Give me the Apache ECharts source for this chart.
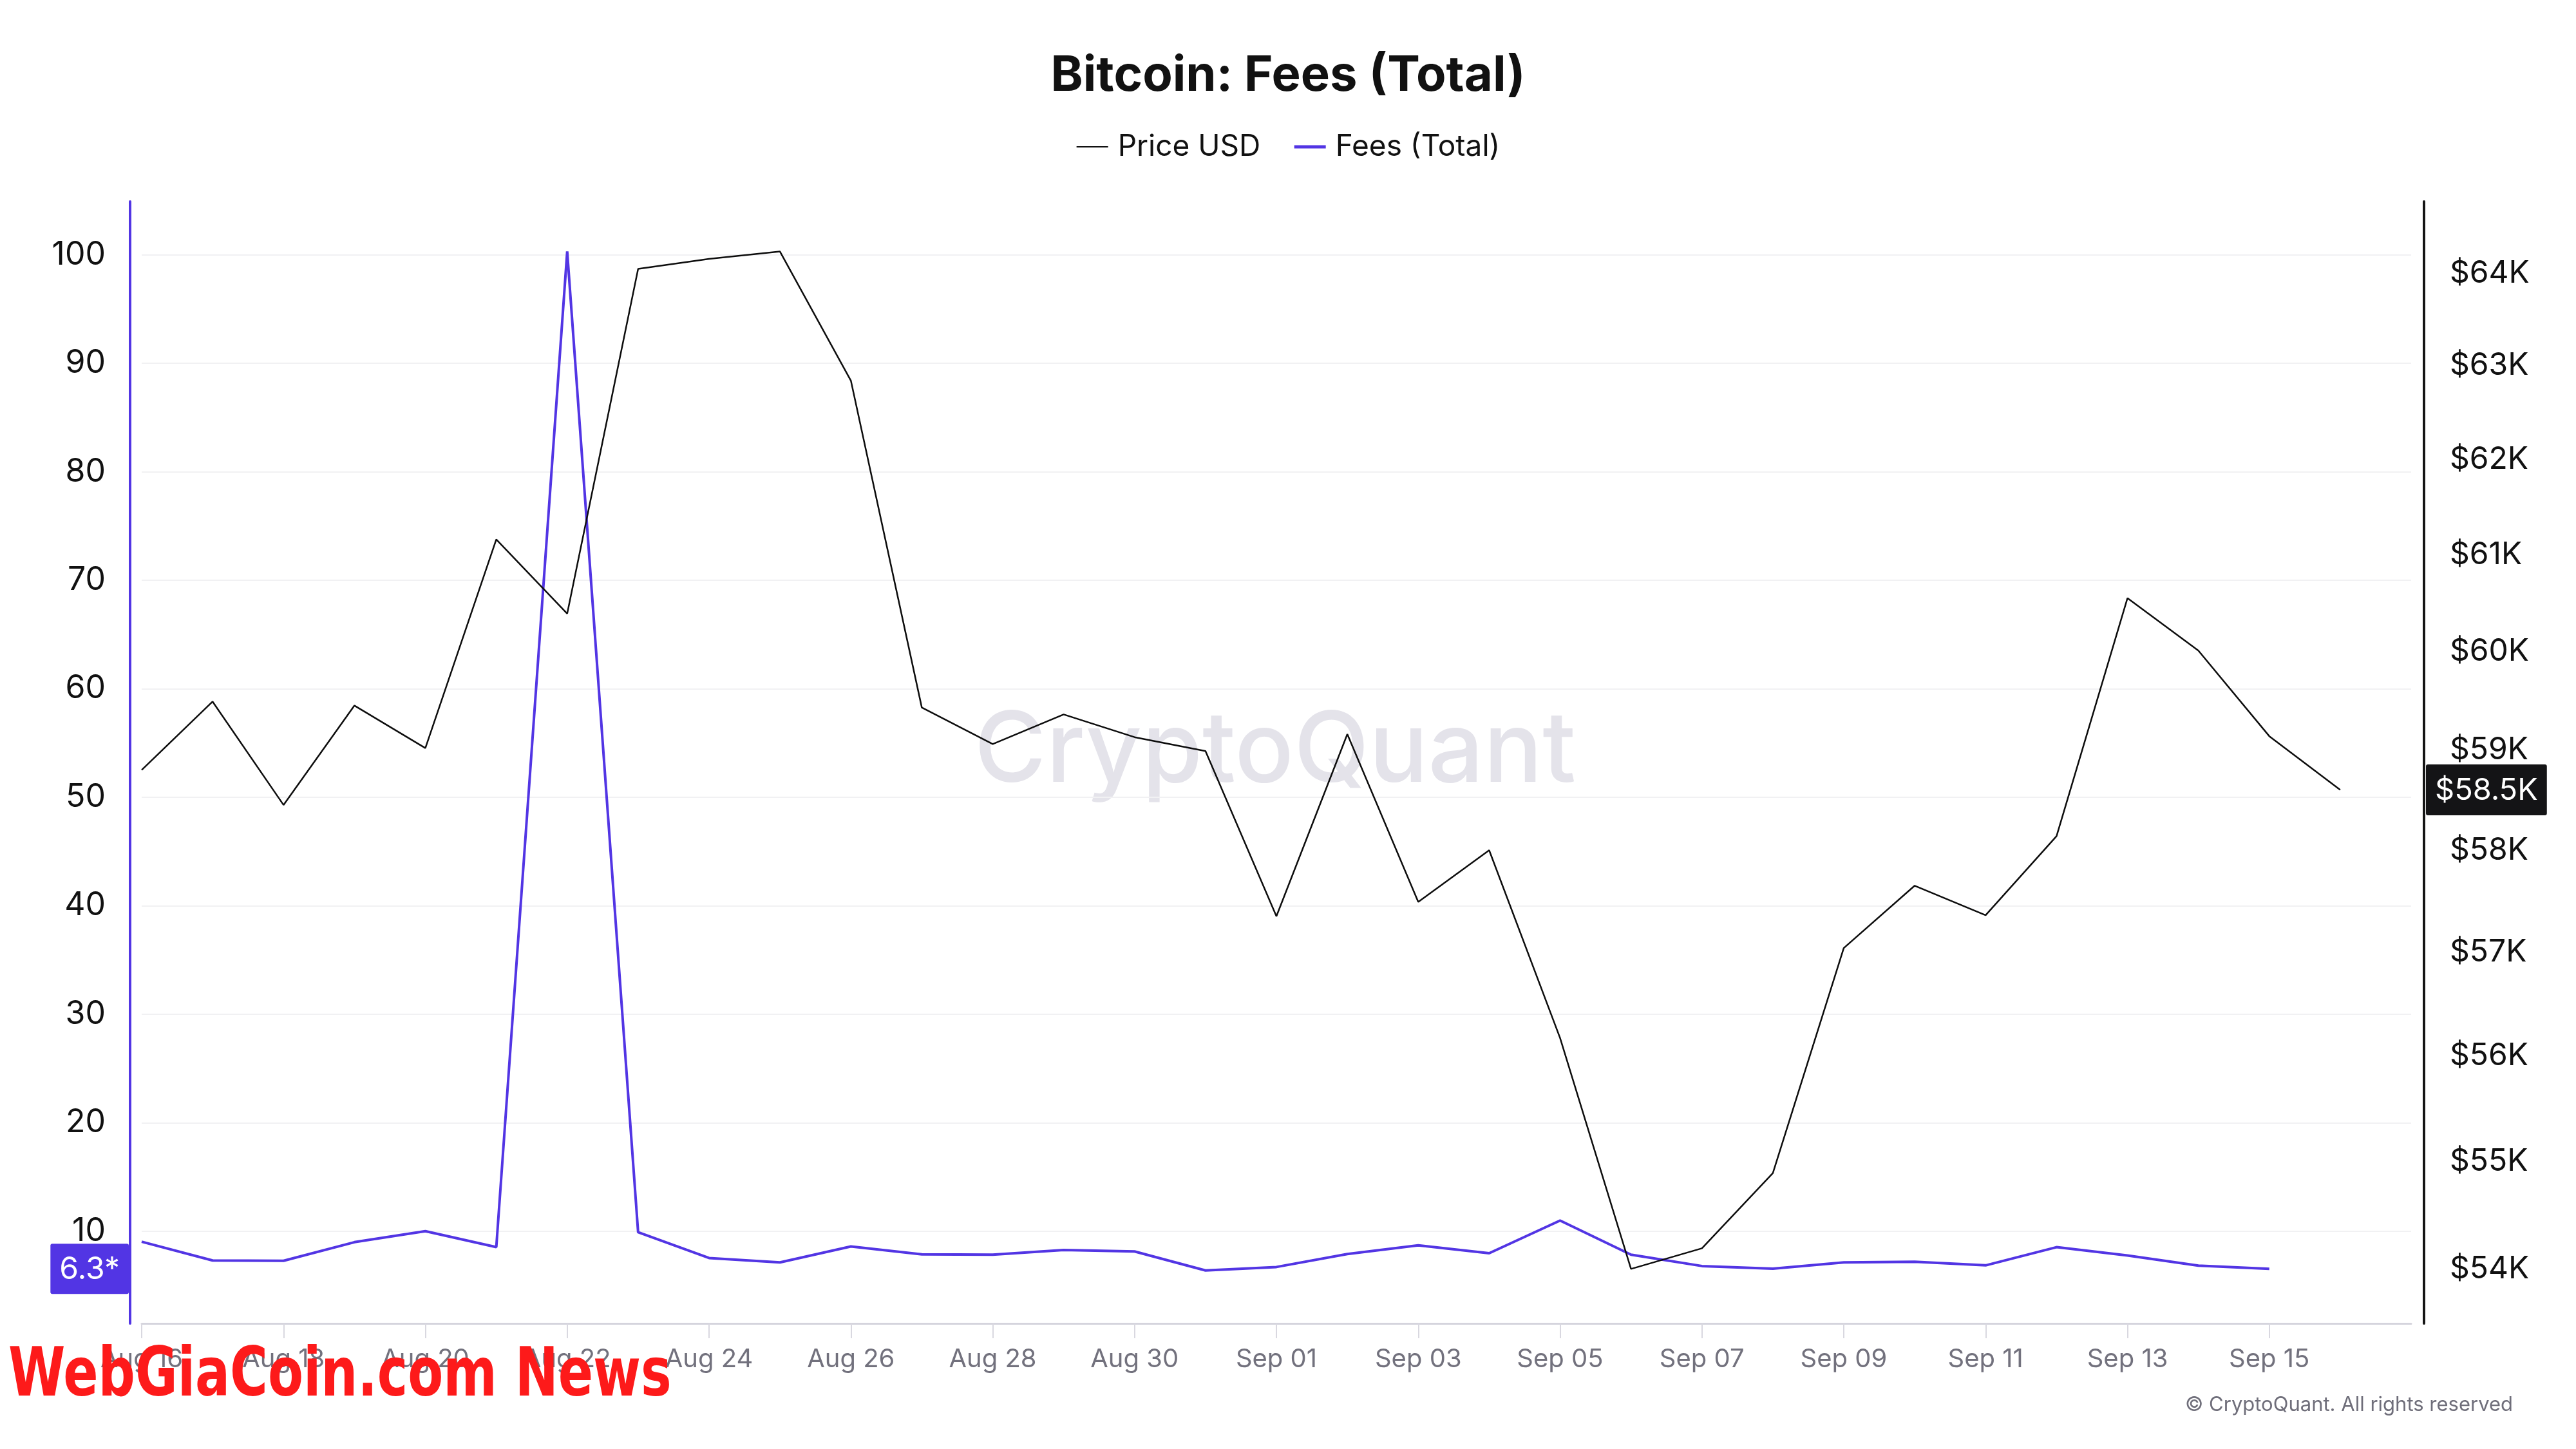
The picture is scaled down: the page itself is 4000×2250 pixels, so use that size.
<!DOCTYPE html>
<html><head><meta charset="utf-8">
<script src="https://cdn.jsdelivr.net/npm/echarts@6/dist/echarts.min.js"></script>
<style>html,body{margin:0;padding:0;background:#fff}#c{width:4000px;height:2250px}</style>
</head><body><div id="c"></div>
<script>
const dates = ['Aug 16','Aug 17','Aug 18','Aug 19','Aug 20','Aug 21','Aug 22','Aug 23','Aug 24','Aug 25','Aug 26','Aug 27','Aug 28','Aug 29','Aug 30','Aug 31',
  'Sep 01','Sep 02','Sep 03','Sep 04','Sep 05','Sep 06','Sep 07','Sep 08','Sep 09','Sep 10','Sep 11','Sep 12','Sep 13','Sep 14','Sep 15','Sep 16','Sep 17'];
const priceUSD = [58800, 59490, 58450, 59450, 59020, 61160, 60390, 64050, 64160, 64240, 62840, 59430, 59060, 59360, 59130, 58990,
  57350, 59160, 57490, 58000, 56170, 54000, 54190, 54890, 57040, 57650, 57360, 58140, 60550, 60010, 59140, 58600];
const feesTotal = [9.03, 7.30, 7.27, 8.99, 10.0, 8.53, 100.3, 9.90, 7.53, 7.12, 8.59, 7.86, 7.83, 8.27, 8.13, 6.38,
  6.7, 7.9, 8.7, 7.97, 10.98, 7.84, 6.79, 6.55, 7.12, 7.18, 6.85, 8.53, 7.76, 6.83, 6.53];
const feesTicks = [10, 20, 30, 40, 50, 60, 70, 80, 90, 100];
const priceTicks = [54000, 55000, 56000, 57000, 58000, 59000, 60000, 61000, 62000, 63000, 64000];
const feesBadge = '6.3*';
const priceBadge = '$58.5K';

const FONT = 'Inter, "Noto Sans", sans-serif';
const PURPLE = '#5235e4';
const BLACK = '#0d0d0d';
const lastLabelled = dates.length - 2;
const showDate = (i) => i % 2 === 0 && i <= lastLabelled;
const chart = echarts.init(document.getElementById('c'), null, {renderer: 'canvas', width: 4000, height: 2250});
const option = {
  backgroundColor: '#ffffff',
  animation: false,
  title: {
    text: 'Bitcoin: Fees (Total)', left: 'center', top: 75,
    textStyle: {fontFamily: FONT, fontSize: 76, fontWeight: 'bold', color: '#111111'}
  },
  legend: {
    top: 200, left: 'center', itemWidth: 49, itemHeight: 4, itemGap: 50,
    itemStyle: {opacity: 0},
    textStyle: {fontFamily: FONT, fontSize: 46, color: '#111111', padding: [0, 0, 0, 10]},
    data: [
      {name: 'Price USD', lineStyle: {color: BLACK, width: 2}},
      {name: 'Fees (Total)', lineStyle: {color: PURPLE, width: 5}}
    ]
  },
  grid: {left: 220, right: 256, top: 313, bottom: 195},
  xAxis: {
    type: 'category', data: dates, boundaryGap: false,
    axisLine: {lineStyle: {color: '#d5d4dd', width: 3}},
    axisTick: {interval: showDate, length: 23, lineStyle: {color: '#d9d8e0', width: 2}},
    axisLabel: {interval: showDate, margin: 36, fontFamily: FONT, fontSize: 40, color: '#72717d'},
    splitLine: {show: false}
  },
  yAxis: [
    {
      type: 'value', position: 'left', offset: 18, min: 1.5, max: 104.9,
      axisLine: {show: true, lineStyle: {color: PURPLE, width: 4}},
      axisTick: {show: false, customValues: feesTicks},
      axisLabel: {customValues: feesTicks, margin: 38, fontFamily: FONT, fontSize: 50, color: '#111111'},
      splitLine: {show: true, lineStyle: {color: '#f1f1f3', width: 2}},
      axisPointer: {
        show: true, type: 'line', value: feesTotal[feesTotal.length - 1], status: 'show', snap: false,
        triggerTooltip: false, lineStyle: {opacity: 0},
        label: {show: true, formatter: () => feesBadge, backgroundColor: PURPLE, color: '#ffffff',
          fontFamily: FONT, fontSize: 48, padding: [16, 14, 14, 14], margin: 2}
      }
    },
    {
      type: 'log', logBase: 10, position: 'right', offset: 20, min: 53500, max: 64790,
      axisLine: {show: true, lineStyle: {color: '#151515', width: 4}},
      axisTick: {show: false, customValues: priceTicks},
      axisLabel: {customValues: priceTicks, margin: 40, fontFamily: FONT, fontSize: 48, color: '#111111',
        formatter: v => '$' + Math.round(v / 1000) + 'K'},
      splitLine: {show: false},
      axisPointer: {
        show: true, type: 'line', value: priceUSD[priceUSD.length - 1], status: 'show', snap: false,
        triggerTooltip: false, lineStyle: {opacity: 0},
        label: {show: true, formatter: () => priceBadge, backgroundColor: '#141416', color: '#ffffff',
          fontFamily: FONT, fontSize: 47, padding: [17, 14, 15, 14], margin: 3}
      }
    }
  ],
  series: [
    {name: 'Fees (Total)', type: 'line', yAxisIndex: 0, data: feesTotal, symbol: 'none',
      lineStyle: {color: PURPLE, width: 4}, itemStyle: {color: PURPLE}, z: 2},
    {name: 'Price USD', type: 'line', yAxisIndex: 1, data: priceUSD, symbol: 'none',
      lineStyle: {color: BLACK, width: 2.5}, itemStyle: {color: BLACK}, z: 3}
  ],
  graphic: [
    {type: 'text', x: 1980, y: 1168, z: -10, silent: true,
      style: {text: 'CryptoQuant', fontSize: 152, fontWeight: 500, fontFamily: FONT, fill: '#e4e3ea',
        align: 'center', verticalAlign: 'middle', textAlign: 'center', textVerticalAlign: 'middle'}},
    {type: 'text', right: 98, top: 2166, silent: true,
      style: {text: '\u00A9 CryptoQuant. All rights reserved', fontSize: 31, fontFamily: FONT, fill: '#6f6e7a'}},
    {type: 'text', x: 13, y: 2086, scaleX: 0.84, silent: true, z: 100,
      style: {text: 'WebGiaCoin.com News', fontSize: 106, fontWeight: 'bold',
        fontFamily: '"Liberation Sans Narrow", "DejaVu Sans Condensed", sans-serif', fill: '#fd1a1a'}}
  ]
};
chart.setOption(option);
</script>
</body></html>
